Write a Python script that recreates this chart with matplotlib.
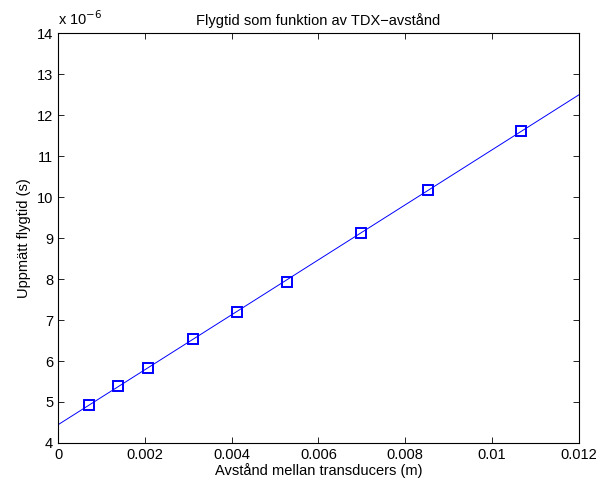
import numpy as np
import matplotlib
matplotlib.use('Agg')
import matplotlib.pyplot as plt
from matplotlib.ticker import FuncFormatter

plt.rcParams['font.family'] = ['Liberation Sans', 'DejaVu Sans']
plt.rcParams['font.size'] = 10.5

# Mätdata
avstand = [0.000714, 0.00138, 0.00207, 0.00311, 0.00412, 0.00527, 0.00698, 0.00852, 0.01066]
flygtid = [4.93e-6, 5.39e-6, 5.83e-6, 6.54e-6, 7.20e-6, 7.93e-6, 9.12e-6, 10.17e-6, 11.61e-6]
xticks = [0, 0.002, 0.004, 0.006, 0.008, 0.01, 0.012]
yticks = [4, 5, 6, 7, 8, 9, 10, 11, 12, 13, 14]

# Linjär anpassning
k, m = np.polyfit(avstand, flygtid, 1)
xfit = np.array([0, 0.012])

fig = plt.figure(figsize=(5.98, 4.86), dpi=100)
ax = fig.add_axes([0.097, 0.0885, 0.871, 0.8435])

ax.plot(xfit, k*xfit + m, '-', color='b', lw=0.7)
ax.plot(avstand, flygtid, 's', color='b', mfc='none', ms=7, mew=1.4)

ax.set_xlim(0, 0.012)
ax.set_ylim(4e-6, 14e-6)
ax.set_xticks(xticks)
ax.set_xticklabels(['0', '0.002', '0.004', '0.006', '0.008', '0.01', '0.012'])
ax.set_yticks([t*1e-6 for t in yticks])
ax.yaxis.set_major_formatter(FuncFormatter(lambda v, p: '%d' % round(v*1e6)))
ax.tick_params(direction='in', top=True, right=True, length=4, width=0.6)
for s in ax.spines.values():
    s.set_linewidth(0.8)

ax.text(0.0, 1.012, 'x 10$^{-6}$', transform=ax.transAxes, ha='left', va='bottom')
ax.set_title('Flygtid som funktion av TDX\u2212avstånd', fontsize=10.5, pad=6)
ax.set_xlabel('Avstånd mellan transducers (m)', labelpad=1)
ax.set_ylabel('Uppmätt flygtid (s)', labelpad=4)

fig.savefig('out.png', dpi=100)
